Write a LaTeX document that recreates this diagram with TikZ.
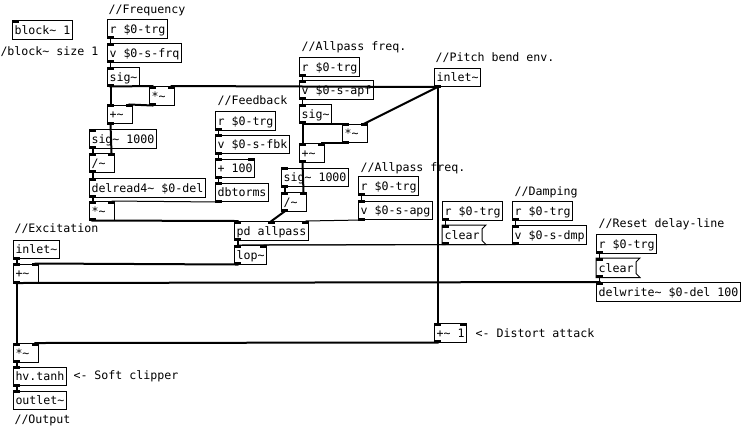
\documentclass[tikz,border=0pt]{standalone}
\usepackage{fontspec}
\newfontfamily\pdfont{DejaVu Sans Mono}
\usetikzlibrary{calc}
\newcommand\tld{\char126\relax}
\tikzset{
  obj/.style={draw=black, line width=0.75pt, anchor=north west, inner xsep=1.5pt, inner ysep=0pt,
    minimum height=13.875pt, text height=8.2pt, text depth=1.5pt,
    font=\pdfont\fontsize{8.72pt}{10pt}\selectfont},
  msgnode/.style={obj, draw=none},
  cmt/.style={obj, draw=none},
  sigw/.style={line width=1.5pt, line cap=rect},
  ctlw/.style={line width=0.75pt},
}
\newcommand\ioA[1]{\coordinate (#1-i1) at ($(#1.north west)+(3.5,0)$);\fill ($(#1.north west)+(0,-0.5)$) rectangle ++(7,3);}
\newcommand\ioB[1]{\coordinate (#1-i2) at ($(#1.north east)+(-3.5,0)$);\fill ($(#1.north east)+(-7,-0.5)$) rectangle ++(7,3);}
\newcommand\ioM[1]{\coordinate (#1-i2) at ($(#1.north west)!0.5!(#1.north east)$);\fill ($(#1-i2)+(-3.5,-0.5)$) rectangle ++(7,3);}
\newcommand\ioC[1]{\coordinate (#1-i3) at ($(#1.north east)+(-3.5,0)$);\fill ($(#1.north east)+(-7,-0.5)$) rectangle ++(7,3);}
\newcommand\ioO[1]{\coordinate (#1-o) at ($(#1.south west)+(3.5,0)$);\fill ($(#1.south west)+(0,0.5)$) rectangle ++(7,-3);}
\newcommand\msgbox[1]{\draw[line width=0.75pt] (#1.north west) -- ($(#1.north east)+(4,0)$) -- ($(#1.north east)+(0,4)$) -- ($(#1.south east)+(0,-4)$) -- ($(#1.south east)+(4,0)$) -- (#1.south west) -- cycle;}
\begin{document}
\begin{tikzpicture}[x=0.75pt, y=-0.75pt]
\fill[white] (0,0) rectangle (745,430);
\useasboundingbox (0,0) rectangle (745,430);

% comments
\node[cmt] (c1) at (-2,41) {/block\tld{} size 1};
\node[cmt] (c2) at (106,-0.25) {//Frequency};
\node[cmt] (c3) at (215,90.75) {//Feedback};
\node[cmt] (c4) at (299,36.75) {//Allpass freq.};
\node[cmt] (c5) at (358,157.75) {//Allpass freq.};
\node[cmt] (c6) at (433,47.75) {//Pitch bend env.};
\node[cmt] (c7) at (512,181.75) {//Damping};
\node[cmt] (c8) at (596,213.75) {//Reset delay-line};
\node[cmt] (c9) at (12,218.75) {//Excitation};
\node[cmt] (c10) at (473,323.75) {<- Distort attack};
\node[cmt] (c11) at (71,365.75) {<- Soft clipper};
\node[cmt] (c12) at (12,409.75) {//Output};

% objects
\node[obj] (block) at (12,20) {block\tld{} 1};
\node[obj] (rF) at (107,19) {r \$0-trg};
\node[obj] (vF) at (107,43) {v \$0-s-frq};
\node[obj] (sigF) at (107,67) {sig\tld};
\node[obj] (mulF) at (149,86) {*\tld\hphantom{0}};
\node[obj] (addF) at (107,104.5) {+\tld\hphantom{0}};
\node[obj] (sktF) at (89,129) {sig\tld{} 1000};
\node[obj] (divF) at (89,153) {/\tld\hphantom{0}};
\node[obj] (delread) at (89,178) {delread4\tld{} \$0-del};
\node[obj] (mulD) at (89,201) {*\tld\hphantom{0}};
\node[obj] (rFb) at (215,111) {r \$0-trg};
\node[obj] (vFb) at (215,134.5) {v \$0-s-fbk};
\node[obj] (addH) at (215,158.5) {+ 100};
\node[obj] (dbt) at (215,182.5) {dbtorms};
\node[obj] (rA) at (299,57) {r \$0-trg};
\node[obj] (vA) at (299,80) {v \$0-s-apf};
\node[obj] (sigA) at (299,104) {sig\tld};
\node[obj] (mulA) at (342,123.5) {*\tld\hphantom{0}};
\node[obj] (addA) at (299,143) {+\tld\hphantom{0}};
\node[obj] (sktA) at (281,167.5) {sig\tld{} 1000};
\node[obj] (divA) at (281,192) {/\tld\hphantom{0}};
\node[obj] (rG) at (358,176) {r \$0-trg};
\node[obj] (vG) at (358,200.5) {v \$0-s-apg};
\node[obj] (pdall) at (234,221) {pd allpass};
\node[obj] (lop) at (234,245) {lop\tld};
\node[obj] (inP) at (434,67.5) {inlet\tld};
\node[obj] (rC) at (442,201) {r \$0-trg};
\node[msgnode] (clrC) at (442,225) {clear};
\node[obj] (rD) at (512,201) {r \$0-trg};
\node[obj] (vD) at (512,225) {v \$0-s-dmp};
\node[obj] (rR) at (596,234) {r \$0-trg};
\node[msgnode] (clrR) at (596,258) {clear};
\node[obj] (dw) at (596,282) {delwrite\tld{} \$0-del 100};
\node[obj] (inE) at (13,239.5) {inlet\tld};
\node[obj] (addE) at (13,263.5) {+\tld\hphantom{0}};
\node[obj] (add1) at (434,323) {+\tld{} 1};
\node[obj] (mulO) at (13,343) {*\tld\hphantom{0}};
\node[obj] (tanh) at (13,366.5) {hv.tanh};
\node[obj] (outl) at (13,390.5) {outlet\tld};
\msgbox{clrC}
\msgbox{clrR}

% iolets
\ioA{block}
\ioO{rF}
\ioA{vF}\ioO{vF}
\ioA{sigF}\ioO{sigF}
\ioA{mulF}\ioB{mulF}\ioO{mulF}
\ioA{addF}\ioB{addF}\ioO{addF}
\ioA{sktF}\ioO{sktF}
\ioA{divF}\ioB{divF}\ioO{divF}
\ioA{delread}\ioO{delread}
\ioA{mulD}\ioB{mulD}\ioO{mulD}
\ioO{rFb}
\ioA{vFb}\ioO{vFb}
\ioA{addH}\ioB{addH}\ioO{addH}
\ioA{dbt}\ioO{dbt}
\ioO{rA}
\ioA{vA}\ioO{vA}
\ioA{sigA}\ioO{sigA}
\ioA{mulA}\ioB{mulA}\ioO{mulA}
\ioA{addA}\ioB{addA}\ioO{addA}
\ioA{sktA}\ioO{sktA}
\ioA{divA}\ioB{divA}\ioO{divA}
\ioO{rG}
\ioA{vG}\ioO{vG}
\ioA{pdall}\ioM{pdall}\ioC{pdall}\ioO{pdall}
\ioA{lop}\ioB{lop}\ioO{lop}
\ioO{inP}
\ioO{rC}
\ioA{clrC}\ioO{clrC}
\ioO{rD}
\ioA{vD}\ioO{vD}
\ioO{rR}
\ioA{clrR}\ioO{clrR}
\ioA{dw}
\ioO{inE}
\ioA{addE}\ioB{addE}\ioO{addE}
\ioA{add1}\ioB{add1}\ioO{add1}
\ioA{mulO}\ioB{mulO}\ioO{mulO}
\ioA{tanh}\ioO{tanh}
\ioA{outl}

% control connections
\draw[ctlw] (rF-o) -- (vF-i1);
\draw[ctlw] (vF-o) -- (sigF-i1);
\draw[ctlw] (rFb-o) -- (vFb-i1);
\draw[ctlw] (vFb-o) -- (addH-i1);
\draw[ctlw] (addH-o) -- (dbt-i1);
\draw[ctlw] (dbt-o) -- (mulD-i2);
\draw[ctlw] (rA-o) -- (vA-i1);
\draw[ctlw] (vA-o) -- (sigA-i1);
\draw[ctlw] (rG-o) -- (vG-i1);
\draw[ctlw] (vG-o) -- (pdall-i3);
\draw[ctlw] (rC-o) -- (clrC-i1);
\draw[ctlw] (clrC-o) -- (lop-i1);
\draw[ctlw] (rD-o) -- (vD-i1);
\draw[ctlw] (vD-o) -- (lop-i2);
\draw[ctlw] (rR-o) -- (clrR-i1);
\draw[ctlw] (clrR-o) -- (dw-i1);

% signal connections
\draw[sigw] (sigF-o) -- (mulF-i1);
\draw[sigw] (sigF-o) -- (addF-i1);
\draw[sigw] (mulF-o) -- (addF-i2);
\draw[sigw] (addF-o) -- (divF-i2);
\draw[sigw] (sktF-o) -- (divF-i1);
\draw[sigw] (divF-o) -- (delread-i1);
\draw[sigw] (delread-o) -- (mulD-i1);
\draw[sigw] (mulD-o) -- (pdall-i1);
\draw[sigw] (inP-o) -- (mulF-i2);
\draw[sigw] (inP-o) -- (mulA-i2);
\draw[sigw] (inP-o) -- (add1-i1);
\draw[sigw] (sigA-o) -- (mulA-i1);
\draw[sigw] (sigA-o) -- (addA-i1);
\draw[sigw] (mulA-o) -- (addA-i2);
\draw[sigw] (addA-o) -- (divA-i2);
\draw[sigw] (sktA-o) -- (divA-i1);
\draw[sigw] (divA-o) -- (pdall-i2);
\draw[sigw] (pdall-o) -- (lop-i1);
\draw[sigw] (lop-o) -- (addE-i2);
\draw[sigw] (inE-o) -- (addE-i1);
\draw[sigw] (addE-o) -- (dw-i1);
\draw[sigw] (addE-o) -- (mulO-i1);
\draw[sigw] (add1-o) -- (mulO-i2);
\draw[sigw] (mulO-o) -- (tanh-i1);
\draw[sigw] (tanh-o) -- (outl-i1);
\end{tikzpicture}
\end{document}
